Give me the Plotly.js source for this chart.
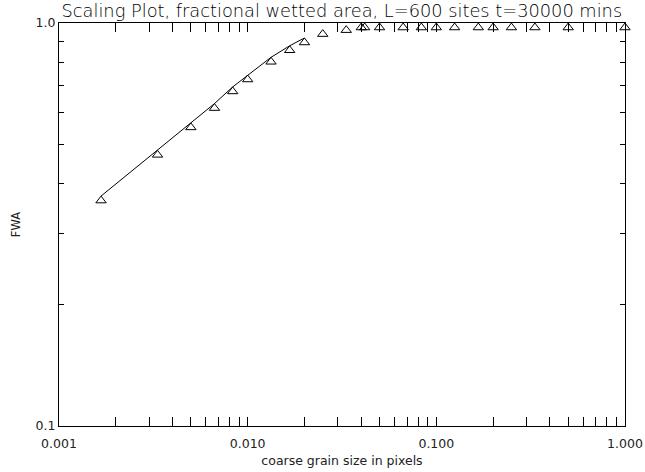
<!DOCTYPE html>
<html>
<head>
<meta charset="utf-8">
<script src="https://cdn.plot.ly/plotly-3.0.1.min.js"></script>
<style>html,body{margin:0;padding:0;background:#fff;}#chart{width:645px;height:472px;}</style>
</head>
<body>
<div id="chart"></div>
<script>
// coarse grain size (fraction of L=600)
const grainSize = [0.00167, 0.00333, 0.005, 0.00667, 0.00833, 0.01, 0.0133, 0.0167, 0.02,
  0.025, 0.0333, 0.04, 0.0417, 0.05, 0.0667, 0.0833, 0.1, 0.125, 0.167, 0.2, 0.25, 0.333, 0.5, 1.0];
// fractional wetted area
const fwa = [0.372, 0.483, 0.565, 0.631, 0.694, 0.743, 0.822, 0.878, 0.918,
  0.963, 0.985, 1.0, 1.0, 1.0, 1.0, 1.0, 1.0, 1.0, 1.0, 1.0, 1.0, 1.0, 1.0, 1.0];
const lineCount = 9; // points joined by the line

const xTickVals = [0.001, 0.01, 0.1, 1.0];
const xTickText = ['0.001', '0.010', '0.100', '1.000'];
const yTickVals = [0.1, 1.0];
const yTickText = ['0.1', '1.0'];

const FONT = 'DejaVu Sans, sans-serif';
const plotH = 403;
const markerSize = 9;
const shift = (markerSize / 2) / plotH; // decades: puts triangle apex on the data point

const traces = [
  {
    x: grainSize.slice(0, lineCount), y: fwa.slice(0, lineCount),
    mode: 'lines', line: {color: '#000', width: 1}, hoverinfo: 'skip',
    xaxis: 'x', yaxis: 'y'
  },
  {
    x: grainSize, y: fwa, mode: 'markers', cliponaxis: false,
    marker: {symbol: 'triangle-up-open', size: markerSize, color: '#000', line: {color: '#000', width: 1}},
    xaxis: 'x', yaxis: 'y2'
  }
];

const axisCommon = {
  type: 'log', showgrid: false, zeroline: false, showline: true,
  linecolor: '#000', linewidth: 1, mirror: 'allticks',
  ticks: 'inside', tickcolor: '#000', tickwidth: 1,
  tickfont: {family: FONT, size: 12.5, color: '#222'}
};

const layout = {
  width: 645, height: 472,
  margin: {l: 59, r: 20, t: 23, b: 46},
  paper_bgcolor: '#fff', plot_bgcolor: '#fff',
  showlegend: false,
  title: {
    text: 'Scaling Plot, fractional wetted area, L=600 sites t=30000 mins',
    font: {family: FONT, size: 17.8, color: '#000', weight: 300},
    x: 0.53, xref: 'container', xanchor: 'center',
    y: 1 - 11 / 472, yref: 'container', yanchor: 'middle'
  },
  xaxis: Object.assign({}, axisCommon, {
    range: [-3, 0], tickmode: 'array', tickvals: xTickVals, ticktext: xTickText,
    ticklen: 9, ticklabelstandoff: 6,
    minor: {dtick: 'D1', ticks: 'inside', ticklen: 5, tickcolor: '#000', tickwidth: 1, showgrid: false},
    title: {text: 'coarse grain size in pixels', font: {family: FONT, size: 12.5, color: '#222'}, standoff: 6}
  }),
  yaxis: Object.assign({}, axisCommon, {
    range: [-1, 0], tickmode: 'array', tickvals: yTickVals, ticktext: yTickText,
    ticklen: 9,
    minor: {dtick: 'D1', ticks: 'inside', ticklen: 5, tickcolor: '#000', tickwidth: 1, showgrid: false},
    title: {text: 'FWA', font: {family: FONT, size: 11.5, color: '#222'}, standoff: 12}
  }),
  yaxis2: {
    type: 'log', overlaying: 'y', range: [-1 + shift, 0 + shift],
    visible: false, showgrid: false, zeroline: false
  }
};

Plotly.newPlot('chart', traces, layout, {displayModeBar: false, staticPlot: true});
</script>
</body>
</html>
